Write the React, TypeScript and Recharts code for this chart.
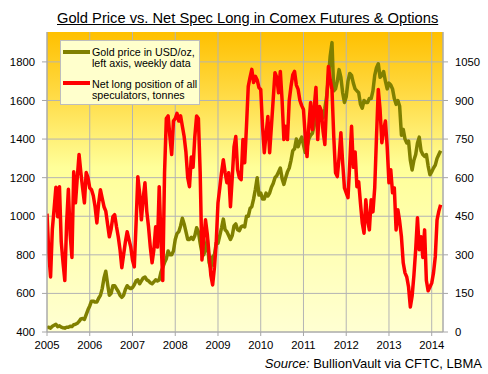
import { LineChart, Line, XAxis, YAxis, CartesianGrid } from "recharts";

// half-monthly samples, 24 per year
const years = [2005, 2006, 2007, 2008, 2009, 2010, 2011, 2012, 2013, 2014];

const gold2005 = [422, 425, 420, 430, 435, 440, 428, 432, 425, 422, 420, 425, 425, 430, 428, 438, 440, 445, 455, 468, 470, 465, 490, 515];
const gold2006 = [535, 560, 560, 555, 555, 575, 590, 625, 680, 715, 650, 590, 600, 640, 640, 625, 610, 590, 580, 590, 620, 640, 630, 625];
const gold2007 = [630, 645, 665, 670, 650, 665, 680, 685, 670, 665, 655, 650, 660, 670, 665, 670, 710, 735, 760, 780, 820, 800, 800, 820];
const gold2008 = [880, 910, 920, 950, 990, 960, 920, 880, 880, 890, 880, 900, 940, 920, 860, 810, 800, 830, 880, 760, 730, 790, 800, 860];
const gold2009 = [860, 900, 940, 985, 930, 920, 900, 880, 900, 950, 960, 930, 925, 945, 950, 945, 1000, 1000, 1040, 1050, 1090, 1140, 1200, 1110];
const gold2010 = [1120, 1090, 1090, 1120, 1105, 1120, 1150, 1170, 1200, 1210, 1230, 1250, 1195, 1165, 1200, 1230, 1250, 1290, 1340, 1350, 1400, 1360, 1390, 1410];
const gold2011 = [1370, 1330, 1360, 1400, 1420, 1430, 1470, 1530, 1490, 1510, 1530, 1510, 1560, 1620, 1720, 1830, 1900, 1650, 1660, 1700, 1760, 1720, 1640, 1590];
const gold2012 = [1620, 1700, 1740, 1730, 1690, 1660, 1650, 1640, 1580, 1560, 1600, 1590, 1590, 1610, 1610, 1650, 1730, 1770, 1790, 1720, 1730, 1750, 1700, 1660];
const gold2013 = [1690, 1680, 1660, 1610, 1580, 1600, 1570, 1420, 1450, 1400, 1380, 1390, 1290, 1240, 1290, 1320, 1380, 1410, 1340, 1320, 1310, 1320, 1260, 1215];
const gold2014 = [1230, 1250, 1265, 1300, 1320, 1340];

const spec2005 = [460, 307, 214, 400, 480, 563, 448, 565, 350, 270, 200, 420, 555, 380, 290, 623, 502, 600, 690, 620, 560, 502, 620, 600];
const spec2006 = [560, 553, 530, 487, 424, 500, 553, 520, 487, 470, 420, 370, 400, 448, 456, 410, 370, 320, 250, 300, 350, 390, 360, 331];
const spec2007 = [280, 253, 420, 604, 540, 436, 520, 580, 470, 409, 330, 269, 320, 409, 330, 565, 359, 200, 620, 830, 840, 760, 690, 820];
const spec2008 = [830, 850, 820, 840, 800, 760, 700, 600, 565, 680, 640, 760, 840, 830, 620, 280, 360, 436, 380, 300, 220, 183, 250, 347];
const spec2009 = [502, 560, 620, 670, 620, 580, 619, 487, 600, 720, 760, 631, 600, 592, 748, 658, 800, 955, 990, 1021, 970, 994, 980, 950];
const spec2010 = [943, 800, 697, 770, 838, 697, 800, 904, 1008, 990, 930, 1013, 900, 748, 800, 748, 900, 955, 1000, 1013, 960, 943, 900, 880];
const spec2011 = [865, 760, 682, 800, 892, 787, 870, 951, 748, 877, 860, 780, 729, 896, 1032, 980, 943, 760, 619, 604, 680, 775, 658, 560];
const spec2012 = [541, 522, 658, 800, 640, 700, 565, 584, 500, 424, 384, 514, 436, 397, 514, 467, 560, 760, 943, 865, 736, 787, 820, 720];
const spec2013 = [580, 631, 541, 560, 397, 475, 430, 370, 269, 230, 214, 175, 97, 140, 220, 320, 444, 320, 370, 290, 397, 200, 160, 175];
const spec2014 = [190, 230, 292, 436, 470, 495];

const goldByYear = [gold2005, gold2006, gold2007, gold2008, gold2009, gold2010, gold2011, gold2012, gold2013, gold2014];
const specByYear = [spec2005, spec2006, spec2007, spec2008, spec2009, spec2010, spec2011, spec2012, spec2013, spec2014];

const leftTicks = [400, 600, 800, 1000, 1200, 1400, 1600, 1800];
const rightTicks = [0, 150, 300, 450, 600, 750, 900, 1050];

const data = years.flatMap((yr, i) =>
  goldByYear[i].map((g, k) => ({ t: yr + k / 24, gold: g, spec: specByYear[i][k] }))
);

const font = '"Liberation Sans", Arial, sans-serif';
const axisGrey = "#A6A6A6";
const tickStyle = { fill: "#000", fontSize: 11.3, fontFamily: font };

export default function App() {
  return (
    <div
      style={{
        position: "absolute",
        left: 0,
        top: 0,
        width: 488,
        height: 374,
        background: "#fff",
        fontFamily: font,
      }}
    >
      <LineChart width={488} height={374} data={data} margin={{ top: 32, right: 0, bottom: 12, left: 0 }}>
        <defs>
          <linearGradient id="bgGrad" x1="0" y1="0" x2="0" y2="1">
            <stop offset="0%" stopColor="#FFC000" />
            <stop offset="22%" stopColor="#FFDC48" />
            <stop offset="45%" stopColor="#FFFF99" />
            <stop offset="100%" stopColor="#FFFFD2" />
          </linearGradient>
        </defs>
        <CartesianGrid
          yAxisId="left"
          stroke="#B4B4B4"
          fill="url(#bgGrad)"
          fillOpacity={1}
          horizontalValues={leftTicks}
        />
        <XAxis
          dataKey="t"
          type="number"
          domain={[2005, 2014.264]}
          ticks={years}
          allowDataOverflow
          height={30}
          tick={tickStyle}
          tickSize={4}
          tickMargin={5}
          stroke={axisGrey}
          interval={0}
        />
        <YAxis
          yAxisId="left"
          orientation="left"
          width={47}
          domain={[400, 1955]}
          ticks={leftTicks}
          allowDataOverflow
          tick={tickStyle}
          tickSize={5}
          tickMargin={7}
          stroke={axisGrey}
          interval={0}
        />
        <YAxis
          yAxisId="right"
          orientation="right"
          width={45}
          domain={[0, 1166.25]}
          ticks={rightTicks}
          allowDataOverflow
          tick={tickStyle}
          tickSize={5}
          tickMargin={7}
          stroke={axisGrey}
          interval={0}
        />
        <Line
          yAxisId="left"
          dataKey="gold"
          type="linear"
          stroke="#808000"
          strokeWidth={3.5}
          strokeLinejoin="round"
          dot={false}
          isAnimationActive={false}
        />
        <Line
          yAxisId="right"
          dataKey="spec"
          type="linear"
          stroke="#FF0000"
          strokeWidth={3.5}
          strokeLinejoin="round"
          dot={false}
          isAnimationActive={false}
        />
      </LineChart>

      <div
        style={{
          position: "absolute",
          left: 57,
          top: 10.9,
          fontSize: 14.7,
          lineHeight: 1,
          whiteSpace: "nowrap",
          textDecoration: "underline",
          color: "#000",
        }}
      >
        Gold Price vs. Net Spec Long in Comex Futures &amp; Options
      </div>

      <div
        style={{
          position: "absolute",
          left: 60,
          top: 40,
          width: 138,
          height: 63,
          background: "#FFFFCC",
          border: "1px solid #BDBDBD",
          fontSize: 10.7,
          lineHeight: "11.5px",
          color: "#000",
        }}
      >
        <div style={{ position: "absolute", left: 2, top: 8.5, width: 27, height: 4, background: "#808000" }} />
        <div style={{ position: "absolute", left: 31, top: 5.5, whiteSpace: "nowrap" }}>
          Gold price in USD/oz,
          <br />
          left axis, weekly data
        </div>
        <div style={{ position: "absolute", left: 2, top: 39.7, width: 27, height: 4, background: "#FF0000" }} />
        <div style={{ position: "absolute", left: 31, top: 37.5, whiteSpace: "nowrap" }}>
          Net long position of all
          <br />
          speculators, tonnes
        </div>
      </div>

      <div
        style={{
          position: "absolute",
          right: 6,
          top: 356,
          fontSize: 13,
          lineHeight: "15px",
          whiteSpace: "nowrap",
          color: "#000",
        }}
      >
        <i>Source:</i> BullionVault via CFTC, LBMA
      </div>
    </div>
  );
}
